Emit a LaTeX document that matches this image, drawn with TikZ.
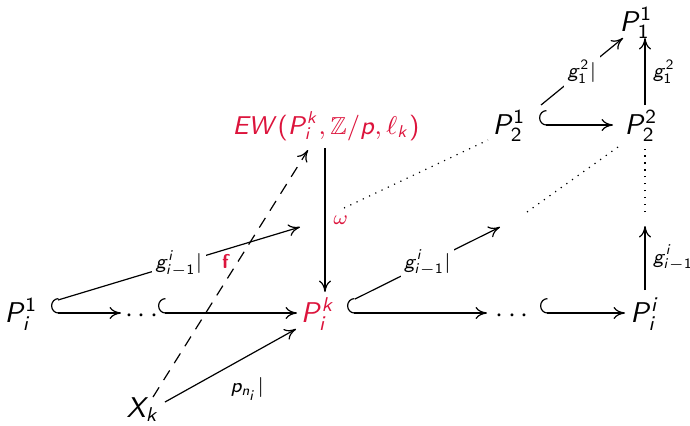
\documentclass[tikz,border=0pt]{standalone}
\usepackage{amssymb}
\usetikzlibrary{arrows.meta,calc}
\DeclareSymbolFont{sfit}{OT1}{cmss}{m}{sl}
\DeclareSymbolFont{sfup}{OT1}{cmss}{m}{n}
\DeclareMathSymbol{P}{\mathalpha}{sfit}{`P}
\DeclareMathSymbol{E}{\mathalpha}{sfit}{`E}
\DeclareMathSymbol{W}{\mathalpha}{sfit}{`W}
\DeclareMathSymbol{X}{\mathalpha}{sfit}{`X}
\DeclareMathSymbol{p}{\mathalpha}{sfit}{`p}
\DeclareMathSymbol{g}{\mathalpha}{sfit}{`g}
\DeclareMathSymbol{i}{\mathalpha}{sfit}{`i}
\DeclareMathSymbol{k}{\mathalpha}{sfit}{`k}
\DeclareMathSymbol{n}{\mathalpha}{sfit}{`n}
\DeclareMathSymbol{1}{\mathalpha}{sfup}{`1}
\DeclareMathSymbol{2}{\mathalpha}{sfup}{`2}
\DeclareMathSymbol{(}{\mathopen}{sfup}{`(}
\DeclareMathSymbol{)}{\mathclose}{sfup}{`)}
\definecolor{alrt}{RGB}{220,20,60}
\begin{document}
\begin{tikzpicture}[x=0.35pt,y=-0.35pt,
  obj/.style={inner sep=0pt, text height=9pt, text depth=2.6pt},
  ar/.style={line width=0.42pt,-{Computer Modern Rightarrow[length=4pt,width=4.2pt]}},
  hk/.style={line width=0.42pt,{Hooks[right,length=2.6pt,width=10.5pt]}-{Computer Modern Rightarrow[length=4pt,width=4.2pt]}},
  dot/.style={line width=0.42pt,dotted},
  dsh/.style={dash pattern=on 4pt off 3pt},
  desc/.style={fill=white, inner sep=1.2pt, font=\scriptsize},
  lab/.style={inner sep=2.6pt, font=\scriptsize}]
\useasboundingbox (0,0) rectangle (690,425);
\node[obj] (P11) at (636,22) {$P_1^1$};
\node[obj] (P21) at (509,125) {$P_2^1$};
\node[obj] (P22) at (641,125) {$P_2^2$};
\node[obj, text=alrt, font=\fontsize{8.6}{10}\selectfont] (EW) at (326,125) {$EW(P_i^k,\mathbb{Z}/p,\ell_k)$};
\node[obj] (Pi1) at (21,313) {$P_i^1$};
\node[obj] (d1) at (142,313) {$\cdots$};
\node[obj, text=alrt] (Pik) at (318,313) {$P_i^k$};
\node[obj] (d2) at (512,313) {$\cdots$};
\node[obj] (Pii) at (645,313) {$P_i^i$};
\node[obj] (Xk) at (143,408) {$X_k$};
\coordinate (A) at (300,227);
\coordinate (B) at (500,227);
\coordinate (C) at (645,226);
\coordinate (Ad) at (344,208);
\coordinate (Bd) at (527,212);
\coordinate (Cd) at (645,212);
% bottom row
\draw[hk] ($(Pi1)+(30,0)$) -- ($(d1)+(-21,0)$);
\draw[ar] ($(Pi1)+(37,-13)$) -- (A) node[desc,pos=.5]{$g^i_{i-1}|$};
\draw[hk] ($(d1)+(16,0)$) -- ($(Pik)+(-21,0)$);
\draw[hk] ($(Pik)+(29,0)$) -- ($(d2)+(-25,0)$);
\draw[ar] ($(Pik)+(37,-14)$) -- (B) node[desc,pos=.5]{$g^i_{i-1}|$};
\draw[hk] ($(d2)+(28,0)$) -- ($(Pii)+(-20,0)$);
\draw[ar] ($(Pii)+(0,-23)$) -- (C) node[lab,right,pos=.5]{$g^i_{i-1}$};
\draw[ar] ($(Xk)+(22,-6)$) -- ($(Pik)+(-22,16)$) node[lab,pos=.44,below right]{$p_{n_i}|$};
\draw[ar,dsh] ($(Xk)+(10,-11)$) -- ($(EW)+(-18,25)$) node[lab,pos=.547,left,text=alrt]{\textsf{\bfseries f}};
\draw[ar] ($(EW)+(-1,23)$) -- ($(Pik)+(7,-21)$) node[lab,pos=.5,right,text=alrt]{$\omega$};
% top
\draw[hk] ($(P21)+(30,0)$) -- ($(P22)+(-28,0)$);
\draw[ar] ($(P21)+(32,-20)$) -- ($(P11)+(-13,16)$) node[desc,pos=.5]{$g_1^2|$};
\draw[ar] ($(P22)+(4,-20)$) -- ($(P11)+(9,16)$) node[lab,right,pos=.5]{$g_1^2$};
% dotted
\draw[dot] (Cd) -- ($(P22)+(4,22)$);
\draw[dot] (Bd) -- ($(P22)+(-23,22)$);
\draw[dot] (Ad) -- ($(P21)+(-21,15)$);
\end{tikzpicture}
\end{document}
